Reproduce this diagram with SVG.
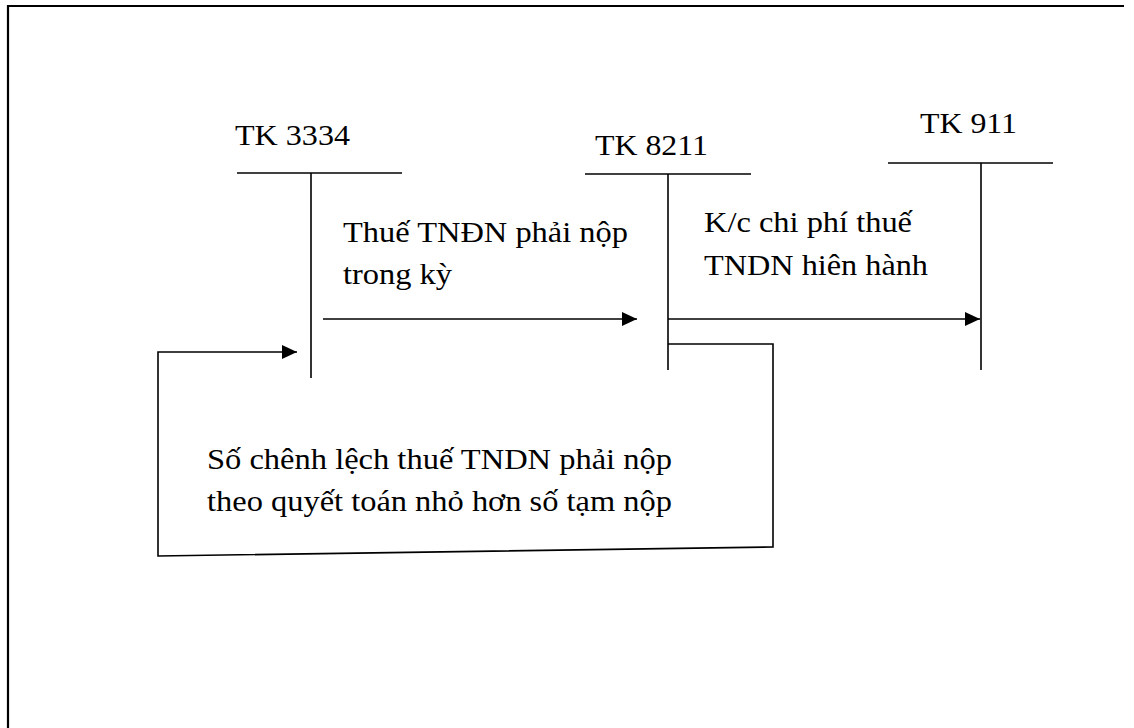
<svg xmlns="http://www.w3.org/2000/svg" width="1134" height="728" viewBox="0 0 1134 728">
  <style>
    .ln { stroke: #000; stroke-width: 1.6; fill: none; }
    .fr { stroke: #000; stroke-width: 2.2; fill: none; }
    .tx { font-family: 'Liberation Serif', 'DejaVu Serif', 'Times New Roman', serif; font-size: 30px; fill: #000; }
  </style>
  <defs>
    <marker id="ah" markerUnits="userSpaceOnUse" markerWidth="16" markerHeight="14" refX="15" refY="7" orient="auto">
      <path d="M0,0 L15,7 L0,14 z" fill="#000"/>
    </marker>
  </defs>
  <rect width="1134" height="728" fill="#fff"/>
  <g id="frame">
    <path class="fr" d="M8,728 L8,6 L1124,6"/>
  </g>
  <g id="tk3334">
    <text class="tx" x="235" y="145" textLength="115" lengthAdjust="spacingAndGlyphs">TK 3334</text>
    <line class="ln" x1="237" y1="173" x2="402" y2="173"/>
    <line class="ln" x1="311" y1="173" x2="311" y2="378"/>
  </g>
  <g id="tk8211">
    <text class="tx" x="595" y="155" textLength="113" lengthAdjust="spacingAndGlyphs">TK 8211</text>
    <line class="ln" x1="585" y1="174" x2="751" y2="174"/>
    <line class="ln" x1="668" y1="174" x2="668" y2="370"/>
  </g>
  <g id="tk911">
    <text class="tx" x="920" y="133" textLength="97" lengthAdjust="spacingAndGlyphs">TK 911</text>
    <line class="ln" x1="888" y1="163" x2="1053" y2="163"/>
    <line class="ln" x1="981" y1="163" x2="981" y2="370"/>
  </g>
  <g id="connectors">
    <line class="ln" x1="323" y1="319" x2="637" y2="319" marker-end="url(#ah)"/>
    <line class="ln" x1="668" y1="319" x2="980" y2="319" marker-end="url(#ah)"/>
    <path class="ln" d="M668,344 L773,344 L773,547 L158,556 L158,352 L297,352" marker-end="url(#ah)"/>
  </g>
  <g id="labels">
    <text class="tx" x="343" y="242" textLength="285" lengthAdjust="spacingAndGlyphs">Thuế TNĐN phải nộp</text>
    <text class="tx" x="343" y="284" textLength="109" lengthAdjust="spacingAndGlyphs">trong kỳ</text>
    <text class="tx" x="704" y="232" textLength="208" lengthAdjust="spacingAndGlyphs">K/c chi phí thuế</text>
    <text class="tx" x="704" y="275" textLength="224" lengthAdjust="spacingAndGlyphs">TNDN hiên hành</text>
    <text class="tx" x="207" y="469" textLength="465" lengthAdjust="spacingAndGlyphs">Số chênh lệch thuế TNDN phải nộp</text>
    <text class="tx" x="207" y="511" textLength="465" lengthAdjust="spacingAndGlyphs">theo quyết toán nhỏ hơn số tạm nộp</text>
  </g>
</svg>
